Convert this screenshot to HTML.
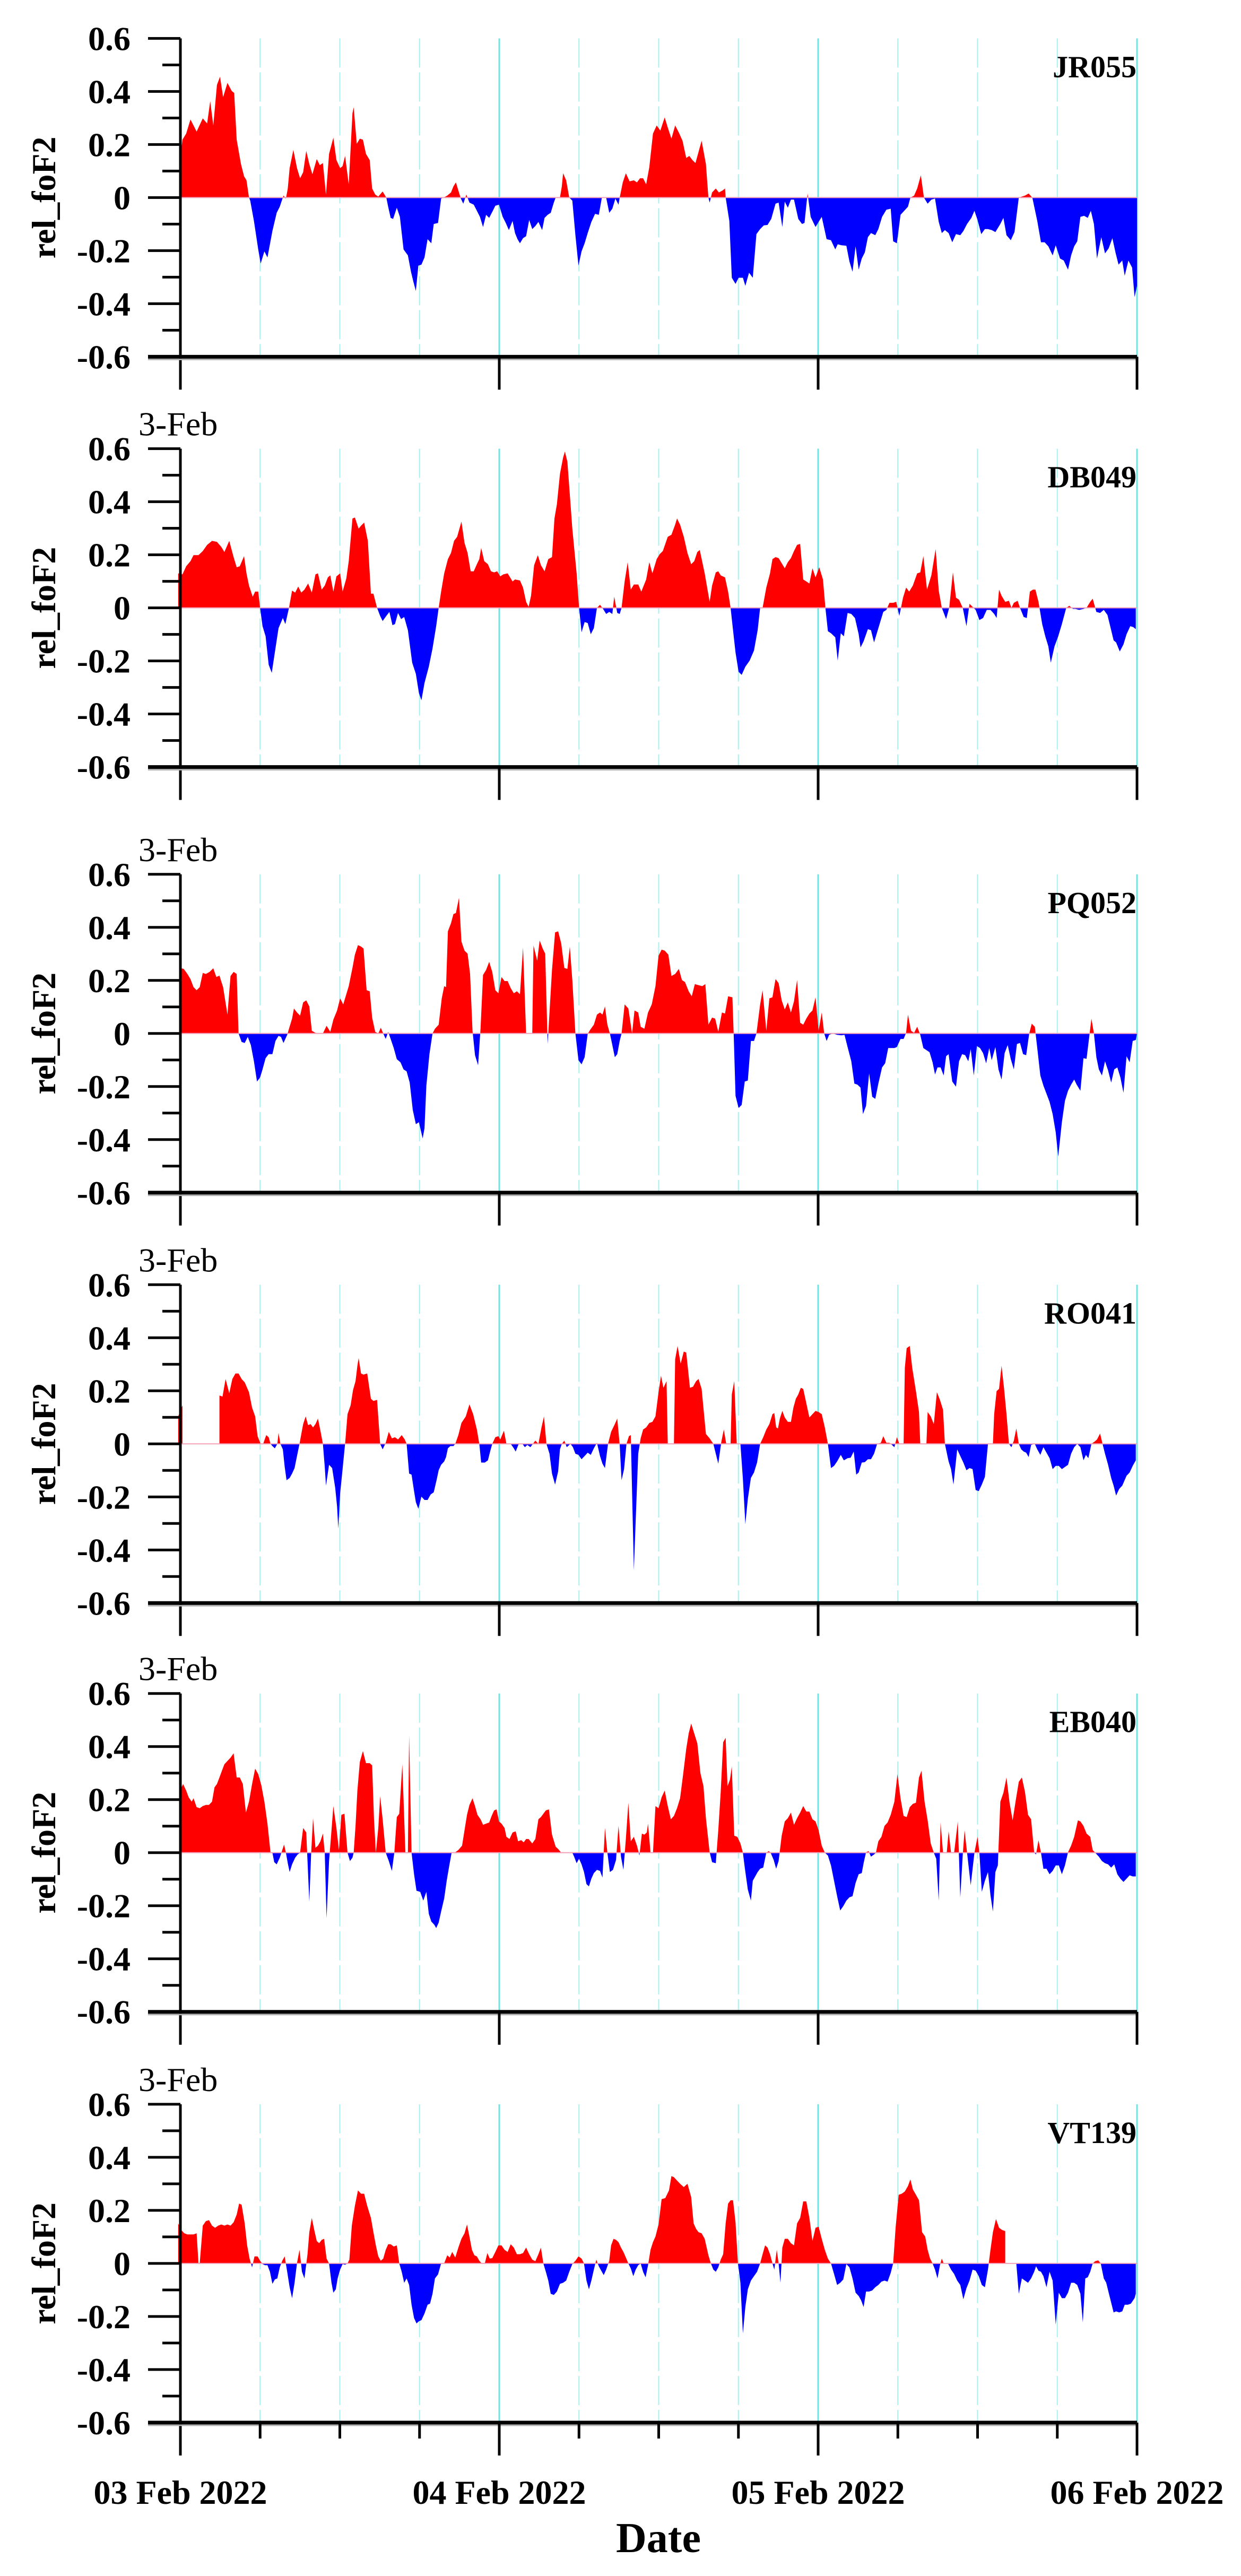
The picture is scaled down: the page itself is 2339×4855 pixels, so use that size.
<!DOCTYPE html>
<html><head><meta charset="utf-8">
<style>
html,body{margin:0;padding:0;background:#fff;}
svg{display:block;}
text{font-family:"Liberation Serif",serif;}
</style></head>
<body>
<svg id="s" width="2339" height="4855" viewBox="0 0 2339 4855" xmlns="http://www.w3.org/2000/svg">
<rect width="2339" height="4855" fill="#fff"/>
<text x="1241" y="4810" font-size="80" font-weight="bold" text-anchor="middle">Date</text>
<text x="340" y="4719" font-size="64" font-weight="bold" text-anchor="middle">03 Feb 2022</text>
<text x="941" y="4719" font-size="64" font-weight="bold" text-anchor="middle">04 Feb 2022</text>
<text x="1542" y="4719" font-size="64" font-weight="bold" text-anchor="middle">05 Feb 2022</text>
<text x="2143" y="4719" font-size="64" font-weight="bold" text-anchor="middle">06 Feb 2022</text>
</svg>
<script>
var P=[];
P.push({o:72,h:600,z:785,name:"JR055",d:"(8,785),(8,600),(12,500),(18,470),(25,400),(35,460),(45,395),(52,420),(57,310),(62,430),(68,230),(73,190),(78,290),(85,220),(92,260),(96,270),(100,500),(107,620),(112,680),(116,700),(120,785),(122,800),(128,900),(135,1040),(139,1110),(145,1050),(150,1080),(158,950),(165,860),(170,830),(176,775),(180,790),(183,740),(186,640),(192,550),(198,640),(203,690),(208,660),(213,555),(218,620),(223,670),(230,595),(235,625),(240,615),(245,770),(250,570),(257,490),(262,600),(268,640),(272,630),(276,580),(282,720),(288,370),(290,340),(295,520),(300,495),(305,500),(310,570),(316,600),(320,740),(325,770),(330,780),(337,755),(343,785),(346,830),(350,885),(354,890),(360,835),(365,880),(371,1040),(378,1070),(383,1150),(387,1200),(391,1245),(395,1120),(400,1115),(405,1080),(410,990),(416,1010),(420,915),(427,910),(432,790),(436,785),(442,775),(448,760),(452,730),(456,710),(460,750),(464,790),(468,815),(473,770),(478,810),(485,820),(490,850),(495,880),(500,930),(505,870),(510,885),(516,850),(520,825),(526,820),(532,880),(537,910),(542,945),(548,900),(552,960),(556,990),(560,1010),(565,985),(570,975),(575,895),(580,940),(585,925),(590,905),(596,945),(600,885),(605,870),(610,860),(615,810),(618,785),(625,785),(628,730),(630,665),(635,700),(640,785),(645,800),(650,970),(655,1120),(660,1050),(665,1010),(670,960),(676,905),(682,865),(688,870),(693,785),(700,785),(705,860),(710,840),(715,790),(720,820),(722,785),(727,710),(732,665),(738,705),(745,700),(750,710),(755,690),(760,690),(765,720),(770,635),(776,470),(782,430),(788,455),(795,390),(800,440),(806,495),(812,430),(818,465),(824,505),(830,590),(835,580),(840,600),(845,615),(850,560),(855,505),(862,620),(866,785),(868,810),(872,760),(878,740),(883,760),(889,750),(893,740),(894,785),(900,900),(904,1180),(910,1210),(915,1180),(922,1180),(926,1220),(932,1155),(938,1180),(944,965),(950,940),(956,922),(962,920),(968,890),(975,815),(980,810),(986,930),(990,805),(995,835),(1000,795),(1005,795),(1012,890),(1018,915),(1022,910),(1027,765),(1032,880),(1040,930),(1045,905),(1050,880),(1058,990),(1065,995),(1072,1040),(1076,1015),(1082,1020),(1090,1022),(1095,1100),(1100,1150),(1105,1025),(1110,1140),(1115,1085),(1120,1055),(1125,980),(1130,960),(1137,970),(1142,940),(1148,880),(1155,845),(1162,840),(1166,1000),(1172,1010),(1178,870),(1184,850),(1190,830),(1194,785),(1200,775),(1205,740),(1211,675),(1216,785),(1222,815),(1228,795),(1234,790),(1240,905),(1245,960),(1250,945),(1256,960),(1262,1005),(1268,965),(1275,970),(1280,950),(1286,915),(1293,885),(1298,850),(1303,895),(1309,965),(1315,940),(1320,940),(1326,945),(1332,955),(1340,915),(1345,885),(1350,970),(1357,995),(1363,955),(1370,785),(1380,775),(1386,765),(1392,785),(1400,900),(1406,1005),(1412,1005),(1418,1025),(1425,1070),(1430,1020),(1437,1085),(1443,1095),(1450,1140),(1455,1070),(1460,1025),(1465,1000),(1470,880),(1476,875),(1482,885),(1487,850),(1492,915),(1497,1085),(1504,980),(1510,1060),(1516,1035),(1522,985),(1527,1055),(1532,1115),(1538,1095),(1542,1170),(1548,1095),(1554,1130),(1558,1275),(1562,1220),(1562,785)"});
P.push({o:851,h:600,z:770,name:"DB049",d:"(5,770),(5,600),(12,605),(18,565),(25,540),(30,510),(38,510),(45,490),(52,460),(60,440),(68,445),(75,470),(80,495),(88,440),(95,520),(100,570),(105,565),(112,515),(116,600),(120,660),(126,715),(130,690),(135,690),(138,770),(142,860),(147,910),(152,1050),(157,1090),(162,990),(168,870),(175,820),(179,850),(185,770),(190,685),(195,695),(200,665),(205,695),(210,680),(216,650),(222,695),(228,605),(232,600),(238,680),(243,660),(248,620),(252,610),(257,690),(262,615),(268,600),(272,690),(278,625),(282,540),(288,330),(292,325),(298,380),(302,365),(307,350),(313,440),(318,700),(322,700),(328,770),(333,810),(337,835),(343,810),(348,790),(353,855),(357,850),(362,795),(367,825),(372,815),(378,880),(385,1040),(391,1095),(396,1190),(400,1225),(405,1140),(412,1060),(418,970),(424,860),(428,770),(432,690),(437,600),(443,530),(448,500),(453,440),(458,420),(465,345),(470,450),(475,500),(480,590),(485,590),(490,555),(494,530),(497,475),(502,540),(508,555),(513,590),(518,595),(523,590),(528,615),(533,605),(540,600),(548,640),(552,630),(560,635),(565,670),(570,740),(574,765),(578,710),(583,560),(589,510),(594,560),(600,590),(606,530),(612,520),(616,330),(620,260),(625,110),(630,30),(633,0),(637,50),(645,380),(652,600),(656,770),(660,890),(665,840),(670,845),(675,900),(680,870),(685,770),(690,755),(695,775),(700,800),(705,790),(710,800),(713,715),(718,795),(722,800),(725,770),(730,640),(735,545),(740,680),(745,655),(752,655),(757,690),(765,630),(770,545),(775,600),(782,530),(787,505),(792,490),(800,420),(806,410),(812,360),(815,330),(820,360),(826,420),(832,500),(838,555),(843,540),(848,495),(852,485),(860,600),(868,740),(872,660),(878,595),(882,590),(886,610),(893,620),(898,690),(902,770),(906,880),(910,990),(915,1085),(920,1100),(926,1060),(933,1030),(940,980),(946,880),(950,770),(954,770),(960,670),(966,600),(970,530),(975,520),(980,525),(985,550),(990,575),(995,545),(1000,525),(1005,490),(1010,460),(1015,455),(1020,630),(1025,640),(1030,650),(1035,575),(1040,620),(1046,570),(1052,630),(1056,770),(1060,885),(1065,895),(1072,915),(1076,1030),(1081,895),(1086,910),(1092,795),(1098,800),(1104,820),(1110,900),(1113,965),(1118,935),(1125,875),(1130,880),(1135,940),(1140,890),(1145,840),(1150,790),(1155,780),(1160,745),(1166,745),(1171,740),(1176,810),(1182,720),(1187,670),(1192,690),(1198,660),(1205,600),(1210,595),(1215,515),(1221,680),(1228,610),(1235,480),(1240,685),(1245,770),(1252,825),(1257,770),(1263,595),(1268,720),(1273,730),(1279,770),(1285,860),(1290,750),(1295,765),(1300,780),(1306,830),(1312,820),(1318,780),(1324,780),(1330,800),(1334,820),(1338,680),(1342,710),(1348,740),(1354,735),(1358,770),(1362,745),(1368,735),(1372,770),(1378,815),(1383,820),(1388,690),(1393,680),(1397,680),(1402,740),(1408,850),(1413,910),(1418,960),(1422,1040),(1428,960),(1434,910),(1440,850),(1447,770),(1452,760),(1458,775),(1462,775),(1468,780),(1475,775),(1480,770),(1486,740),(1490,725),(1496,790),(1502,795),(1508,780),(1514,805),(1520,880),(1524,930),(1528,940),(1534,985),(1540,950),(1545,900),(1551,860),(1556,865),(1560,875),(1560,770)"});
P.push({o:1629,h:600,z:833,name:"PQ052",d:"(8,833),(8,510),(14,515),(20,540),(25,565),(30,605),(35,620),(40,605),(45,535),(50,540),(56,530),(62,512),(67,555),(72,548),(78,605),(85,740),(90,550),(95,530),(100,540),(103,833),(108,875),(113,880),(118,850),(123,890),(128,970),(133,1070),(138,1050),(142,1010),(147,955),(152,935),(158,935),(163,870),(168,845),(172,850),(176,880),(182,840),(185,810),(190,760),(193,710),(198,730),(203,745),(208,680),(213,670),(218,700),(222,820),(228,830),(233,833),(240,833),(246,795),(252,825),(257,765),(263,720),(268,660),(273,690),(278,640),(282,600),(288,510),(292,445),(297,398),(302,405),(306,415),(311,620),(316,625),(320,755),(325,825),(330,833),(334,805),(338,833),(342,860),(346,825),(350,860),(355,905),(360,960),(366,975),(371,1010),(376,1020),(381,1075),(386,1210),(391,1280),(396,1270),(402,1350),(405,1300),(408,1090),(413,935),(418,833),(422,810),(428,790),(433,660),(437,600),(440,605),(443,330),(448,290),(452,245),(456,240),(461,165),(465,380),(470,425),(475,440),(479,540),(483,820),(487,940),(492,990),(496,810),(500,545),(505,520),(510,480),(515,530),(520,620),(525,635),(530,555),(535,575),(540,575),(545,610),(550,635),(555,625),(560,640),(565,410),(570,833),(580,833),(582,400),(588,475),(592,375),(597,415),(601,440),(605,885),(612,520),(617,335),(622,330),(627,390),(632,510),(637,515),(641,405),(645,570),(650,833),(655,965),(660,985),(665,950),(670,835),(674,815),(680,790),(685,740),(690,730),(694,740),(698,700),(702,790),(706,833),(710,890),(714,950),(718,935),(722,870),(725,833),(730,690),(736,710),(742,833),(746,720),(752,730),(756,800),(762,810),(768,730),(774,690),(780,600),(785,450),(790,420),(795,425),(801,445),(806,550),(812,540),(818,515),(823,570),(828,580),(834,625),(839,650),(844,590),(850,595),(856,600),(861,590),(866,790),(872,755),(877,760),(882,825),(888,730),(893,735),(898,650),(905,655),(907,833),(910,1140),(915,1200),(920,1185),(925,1070),(930,1065),(935,870),(940,870),(944,833),(950,690),(954,620),(960,820),(965,660),(970,655),(975,565),(980,585),(985,670),(990,715),(995,680),(1000,730),(1005,675),(1010,570),(1015,780),(1020,790),(1025,760),(1030,735),(1035,720),(1040,655),(1045,820),(1050,730),(1054,833),(1058,870),(1062,840),(1068,833),(1075,840),(1082,842),(1087,840),(1092,900),(1098,970),(1103,1080),(1108,1085),(1113,1100),(1117,1230),(1122,1190),(1127,1030),(1132,1145),(1137,1155),(1142,1080),(1148,1000),(1153,980),(1158,905),(1163,905),(1168,905),(1172,900),(1178,860),(1183,860),(1187,830),(1190,740),(1195,820),(1200,830),(1205,800),(1210,840),(1215,905),(1220,915),(1225,925),(1230,975),(1234,1035),(1238,1000),(1243,1000),(1248,1040),(1252,945),(1256,935),(1262,1070),(1268,1095),(1273,970),(1278,935),(1283,940),(1288,970),(1292,910),(1297,1040),(1302,895),(1307,905),(1312,930),(1317,980),(1322,905),(1326,965),(1332,900),(1337,1010),(1342,1060),(1347,930),(1352,890),(1357,960),(1362,1010),(1367,885),(1372,880),(1377,935),(1382,940),(1387,833),(1391,785),(1396,800),(1400,905),(1405,1040),(1410,1090),(1415,1130),(1420,1170),(1425,1230),(1430,1320),(1434,1440),(1440,1270),(1445,1165),(1450,1115),(1455,1085),(1460,1060),(1464,1085),(1470,1115),(1475,955),(1480,958),(1485,833),(1488,760),(1492,833),(1496,950),(1500,1010),(1505,1040),(1510,970),(1515,1015),(1520,1075),(1525,1010),(1530,1000),(1535,1050),(1540,1125),(1545,945),(1550,975),(1555,870),(1560,865),(1562,833)"});
P.push({o:2400,h:650,z:775,name:"RO041",d:"(5,775),(5,650),(12,600),(12,775),(72,775),(72,555),(77,560),(82,480),(88,545),(93,480),(98,455),(103,455),(108,480),(113,495),(120,540),(125,610),(130,650),(134,740),(139,775),(143,775),(148,735),(152,745),(155,775),(158,785),(162,795),(166,775),(168,725),(171,775),(175,800),(178,880),(181,940),(186,930),(190,910),(194,885),(198,830),(202,775),(205,730),(208,685),(212,650),(216,690),(220,685),(224,700),(228,685),(232,660),(236,715),(240,775),(243,880),(245,965),(250,870),(255,885),(260,975),(263,1060),(265,1160),(268,1000),(272,890),(276,775),(280,640),(285,600),(289,530),(293,490),(296,420),(298,385),(302,455),(306,460),(312,455),(318,570),(322,580),(328,575),(333,775),(337,800),(342,770),(347,720),(352,750),(357,745),(362,755),(368,735),(373,755),(376,775),(380,910),(384,915),(388,990),(391,1040),(395,1070),(400,1015),(405,1030),(410,1030),(415,1005),(420,995),(425,935),(428,895),(432,870),(437,855),(440,835),(443,795),(447,785),(452,785),(455,775),(460,735),(465,680),(472,650),(478,595),(484,640),(490,710),(494,775),(497,860),(503,860),(508,850),(512,805),(515,775),(520,745),(525,740),(528,755),(534,715),(538,775),(545,775),(550,795),(553,810),(558,775),(564,775),(568,790),(572,780),(577,790),(581,775),(585,760),(590,775),(595,700),(599,650),(603,775),(608,820),(612,910),(617,960),(622,900),(625,800),(628,775),(632,760),(636,790),(642,775),(646,790),(650,820),(655,825),(660,845),(665,830),(670,815),(675,825),(680,795),(685,770),(690,830),(694,865),(698,885),(703,775),(708,720),(714,685),(718,660),(722,780),(725,940),(729,890),(733,775),(737,740),(740,735),(745,1350),(748,1120),(752,820),(756,750),(760,710),(765,700),(770,680),(775,675),(780,650),(785,540),(789,465),(793,520),(798,490),(800,775),(810,775),(812,390),(816,330),(821,410),(826,355),(830,360),(836,520),(841,515),(846,490),(850,480),(855,525),(862,730),(868,750),(874,775),(878,820),(882,865),(887,765),(891,710),(895,775),(902,775),(904,550),(908,490),(912,775),(918,775),(922,935),(926,1140),(930,1025),(935,930),(940,905),(945,860),(950,775),(955,745),(960,710),(965,685),(970,640),(973,635),(976,700),(979,705),(982,660),(986,625),(990,655),(995,675),(1000,675),(1004,610),(1008,570),(1012,550),(1016,520),(1020,525),(1025,590),(1030,655),(1035,640),(1040,625),(1045,630),(1050,640),(1055,700),(1060,775),(1065,885),(1070,875),(1075,855),(1081,825),(1086,850),(1092,840),(1097,838),(1102,810),(1106,915),(1110,905),(1115,860),(1120,858),(1125,845),(1130,845),(1135,820),(1140,775),(1146,770),(1150,740),(1155,770),(1160,770),(1164,780),(1168,790),(1172,745),(1176,775),(1183,775),(1185,430),(1188,340),(1193,330),(1197,430),(1203,535),(1208,630),(1210,775),(1220,775),(1222,630),(1227,650),(1232,685),(1237,540),(1242,575),(1247,620),(1250,775),(1256,855),(1260,890),(1264,960),(1267,880),(1270,800),(1275,830),(1280,860),(1285,895),(1290,885),(1295,890),(1300,985),(1305,990),(1310,960),(1315,925),(1320,775),(1328,775),(1330,640),(1334,535),(1338,525),(1342,420),(1346,520),(1350,640),(1354,775),(1358,790),(1362,760),(1366,705),(1370,775),(1374,800),(1378,810),(1382,815),(1386,835),(1390,780),(1396,775),(1400,800),(1405,825),(1410,790),(1415,815),(1420,840),(1425,890),(1430,875),(1435,875),(1440,890),(1445,880),(1450,870),(1455,820),(1460,790),(1465,775),(1470,790),(1475,850),(1479,825),(1483,840),(1488,775),(1493,765),(1497,755),(1502,728),(1506,775),(1510,820),(1515,870),(1520,930),(1524,965),(1528,1010),(1533,980),(1538,965),(1545,920),(1550,905),(1555,875),(1560,850),(1560,775)"});
P.push({o:3180,h:650,z:752,name:"EB040",d:"(8,752),(8,470),(13,440),(18,470),(22,500),(27,520),(30,505),(35,545),(40,550),(45,540),(50,535),(55,535),(60,520),(64,455),(68,440),(72,410),(76,380),(80,350),(85,335),(90,320),(95,300),(100,410),(105,410),(110,440),(115,570),(120,520),(125,440),(130,370),(135,395),(140,445),(145,520),(150,620),(155,752),(158,752),(161,795),(165,805),(170,775),(174,740),(177,715),(180,752),(183,800),(186,840),(190,805),(195,775),(199,760),(203,752),(208,640),(213,660),(218,975),(221,752),(224,595),(228,730),(232,720),(236,700),(240,665),(243,752),(246,1050),(250,790),(254,650),(257,540),(262,640),(266,740),(270,580),(275,575),(280,752),(284,790),(288,775),(290,752),(293,630),(296,470),(300,340),(305,290),(310,345),(316,345),(320,355),(323,600),(326,752),(330,640),(333,495),(337,600),(342,752),(347,790),(352,835),(356,752),(360,590),(364,575),(369,350),(374,752),(378,752),(380,220),(384,752),(388,850),(392,925),(398,930),(403,970),(408,930),(412,1030),(416,1065),(421,1080),(424,1095),(428,1070),(432,1020),(437,960),(441,880),(445,815),(449,752),(455,750),(460,740),(466,720),(470,650),(474,580),(478,535),(483,505),(487,540),(491,580),(496,600),(500,625),(505,620),(510,615),(514,585),(518,560),(522,555),(526,610),(530,620),(535,640),(538,680),(543,690),(548,660),(553,655),(557,700),(562,695),(566,705),(570,690),(574,690),(580,710),(585,690),(590,600),(594,590),(598,575),(602,560),(607,555),(612,670),(618,725),(622,735),(627,752),(632,752),(637,750),(640,752),(645,752),(648,770),(652,800),(656,780),(660,805),(664,840),(668,895),(672,905),(676,870),(680,845),(685,830),(690,835),(694,865),(698,640),(702,752),(706,840),(711,830),(716,785),(720,630),(724,770),(728,830),(732,690),(736,525),(740,700),(745,680),(750,720),(754,765),(758,665),(762,670),(766,660),(768,620),(772,752),(776,752),(780,540),(785,550),(790,500),(795,470),(800,540),(805,600),(810,585),(815,550),(820,505),(825,395),(830,280),(834,210),(838,165),(843,210),(848,255),(853,390),(858,450),(862,595),(868,750),(872,795),(878,800),(882,650),(886,475),(890,250),(894,230),(897,450),(901,420),(904,360),(908,675),(913,680),(918,710),(922,752),(925,820),(930,920),(935,970),(938,880),(942,860),(946,840),(950,825),(955,820),(960,752),(964,745),(967,752),(972,785),(976,825),(980,790),(985,675),(990,610),(995,595),(1000,570),(1005,625),(1010,595),(1015,570),(1020,540),(1025,565),(1030,565),(1035,600),(1040,610),(1045,650),(1050,720),(1055,752),(1060,765),(1065,810),(1070,880),(1075,950),(1080,1015),(1085,995),(1090,970),(1095,955),(1100,950),(1105,890),(1110,850),(1115,845),(1118,800),(1122,750),(1126,745),(1130,770),(1135,760),(1138,752),(1142,700),(1147,680),(1152,630),(1157,615),(1162,580),(1168,520),(1173,395),(1178,505),(1183,585),(1188,590),(1193,545),(1198,530),(1203,525),(1208,410),(1212,380),(1217,520),(1222,605),(1227,710),(1232,752),(1236,780),(1240,970),(1243,615),(1247,752),(1253,752),(1256,655),(1260,752),(1265,752),(1271,610),(1275,955),(1279,760),(1282,650),(1286,752),(1292,900),(1298,752),(1303,680),(1306,752),(1310,930),(1315,880),(1320,840),(1324,945),(1328,1020),(1332,840),(1336,810),(1340,520),(1345,480),(1350,410),(1355,525),(1360,605),(1365,515),(1370,430),(1375,410),(1380,475),(1385,580),(1390,600),(1395,752),(1398,760),(1402,695),(1406,752),(1410,825),(1415,825),(1420,850),(1425,835),(1430,810),(1435,810),(1440,850),(1445,810),(1450,750),(1455,720),(1460,680),(1466,605),(1470,610),(1475,630),(1480,665),(1486,680),(1490,740),(1494,752),(1500,770),(1505,790),(1510,800),(1515,805),(1520,820),(1525,805),(1530,850),(1535,870),(1540,885),(1545,870),(1550,855),(1555,860),(1560,860),(1560,752)"});
P.push({o:3950,h:650,z:762,name:"VT139",d:"(5,762),(5,580),(10,610),(15,625),(20,630),(25,630),(30,630),(35,625),(38,762),(40,762),(45,590),(50,570),(55,565),(60,590),(65,600),(70,590),(75,585),(80,590),(85,585),(90,590),(95,575),(100,540),(104,490),(108,495),(113,580),(117,680),(121,740),(125,780),(129,730),(134,730),(138,750),(142,765),(146,770),(150,770),(154,800),(158,855),(162,835),(166,830),(170,780),(174,750),(178,730),(182,800),(186,870),(190,920),(194,850),(198,760),(202,700),(206,800),(210,830),(215,720),(218,620),(222,555),(226,610),(230,660),(234,670),(238,655),(242,650),(246,740),(250,762),(254,850),(257,895),(261,880),(264,830),(268,790),(272,765),(276,768),(280,762),(283,745),(287,590),(292,500),(297,430),(302,445),(307,445),(312,500),(318,555),(322,620),(326,680),(330,730),(334,750),(338,740),(342,700),(346,675),(350,675),(355,685),(360,680),(364,762),(368,800),(372,850),(376,830),(380,860),(384,950),(388,1010),(392,1035),(396,1025),(400,1020),(405,990),(410,950),(414,945),(418,900),(422,830),(427,812),(432,762),(437,762),(442,725),(446,735),(450,710),(455,735),(460,690),(465,650),(470,625),(474,585),(478,640),(482,700),(486,725),(490,730),(494,750),(498,762),(503,762),(507,715),(511,740),(515,738),(520,710),(525,680),(530,680),(535,700),(540,710),(545,675),(550,690),(555,720),(560,720),(565,715),(570,690),(575,720),(580,745),(585,752),(590,720),(594,690),(598,762),(602,800),(606,840),(610,900),(615,905),(620,890),(625,855),(630,850),(635,840),(640,800),(645,765),(650,750),(655,730),(660,740),(664,762),(668,840),(672,880),(676,840),(680,790),(684,745),(688,775),(692,795),(696,815),(700,790),(705,750),(708,680),(712,650),(716,655),(720,665),(724,690),(728,710),(732,735),(736,762),(740,785),(744,820),(748,790),(752,770),(756,762),(760,800),(764,825),(768,770),(772,700),(776,665),(780,640),(785,585),(790,470),(796,465),(802,430),(806,365),(810,370),(815,385),(820,400),(826,415),(832,400),(838,460),(842,580),(846,605),(850,620),(855,625),(860,650),(866,725),(870,762),(874,790),(878,800),(882,780),(886,745),(890,720),(894,580),(898,490),(902,475),(906,475),(910,575),(914,762),(918,850),(922,1080),(926,960),(930,880),(935,840),(940,820),(945,800),(950,762),(954,720),(958,680),(962,690),(966,720),(970,762),(973,790),(977,700),(980,762),(983,850),(986,690),(990,650),(995,650),(1000,670),(1005,680),(1010,580),(1015,555),(1020,480),(1025,480),(1030,555),(1035,660),(1040,600),(1045,595),(1050,650),(1055,700),(1060,740),(1065,762),(1070,810),(1075,860),(1080,850),(1085,835),(1090,765),(1095,780),(1100,830),(1105,895),(1110,910),(1114,930),(1118,960),(1122,890),(1127,890),(1132,885),(1137,870),(1142,860),(1147,845),(1152,840),(1157,845),(1162,805),(1166,762),(1170,600),(1175,450),(1180,445),(1185,435),(1190,410),(1194,380),(1198,425),(1203,450),(1208,475),(1213,620),(1218,640),(1222,700),(1226,740),(1230,762),(1234,790),(1238,830),(1242,770),(1245,740),(1248,762),(1255,762),(1260,790),(1265,810),(1270,840),(1275,860),(1280,925),(1285,875),(1290,840),(1295,790),(1300,795),(1305,820),(1310,860),(1315,870),(1320,790),(1324,700),(1328,620),(1333,560),(1338,600),(1343,610),(1348,615),(1348,762),(1366,762),(1370,900),(1375,830),(1380,840),(1385,850),(1390,830),(1395,800),(1398,775),(1402,795),(1406,800),(1410,820),(1415,870),(1420,800),(1425,840),(1430,1040),(1435,895),(1440,920),(1445,920),(1450,895),(1455,850),(1460,850),(1465,860),(1470,900),(1474,1030),(1478,830),(1482,825),(1486,800),(1490,762),(1494,752),(1499,748),(1503,762),(1508,830),(1512,850),(1516,895),(1520,940),(1524,985),(1528,980),(1533,985),(1538,980),(1542,950),(1547,950),(1552,945),(1558,920),(1560,900),(1560,762)"});

var NS="http://www.w3.org/2000/svg",svg=document.getElementById("s");
function el(t,a,txt){var e=document.createElementNS(NS,t);for(var k in a)e.setAttribute(k,a[k]);if(txt!==undefined)e.textContent=txt;svg.appendChild(e);return e;}
var defs=el("defs",{});
var X0=340,XE=2143,DW=(XE-X0)/3;
P.forEach(function(p,i){
  var sc=1568/p.h, zero=p.o+p.z/sc, top=zero-300, bot=zero+300;
  for(var k=1;k<=12;k++){
    var x=X0+k*DW/4;
    if(k%4==0) el("line",{x1:x,y1:top,x2:x,y2:bot,stroke:"#6fe3e3","stroke-width":3});
    else el("line",{x1:x,y1:top,x2:x,y2:bot,stroke:"#a6f0f0","stroke-width":2,"stroke-dasharray":"55 9"});
  }
  var re=/\((\d+),(\d+)\)/g,m,pts=[];
  while((m=re.exec(p.d))){pts.push([330+(+m[1])*1820/1568,p.o+(+m[2])/sc]);}
  var dpath="M"+pts[0][0].toFixed(1)+" "+zero.toFixed(1);
  pts.forEach(function(q){dpath+=" L"+q[0].toFixed(1)+" "+q[1].toFixed(1);});
  dpath+=" L"+pts[pts.length-1][0].toFixed(1)+" "+zero.toFixed(1)+" Z";
  var c1=document.createElementNS(NS,"clipPath");c1.setAttribute("id","u"+i);
  var r1=document.createElementNS(NS,"rect");r1.setAttribute("x",0);r1.setAttribute("y",top-50);r1.setAttribute("width",2339);r1.setAttribute("height",zero-top+50);c1.appendChild(r1);defs.appendChild(c1);
  var c2=document.createElementNS(NS,"clipPath");c2.setAttribute("id","d"+i);
  var r2=document.createElementNS(NS,"rect");r2.setAttribute("x",0);r2.setAttribute("y",zero);r2.setAttribute("width",2339);r2.setAttribute("height",350);c2.appendChild(r2);defs.appendChild(c2);
  el("path",{d:dpath,fill:"#ff0000","clip-path":"url(#u"+i+")"});
  el("path",{d:dpath,fill:"#0000ff","clip-path":"url(#d"+i+")"});
  el("line",{x1:X0,y1:zero,x2:XE,y2:zero,stroke:"#f4a0b8","stroke-width":2});
  el("line",{x1:X0,y1:top,x2:X0,y2:bot+62,stroke:"#000","stroke-width":5});
  el("line",{x1:279,y1:bot+5,x2:XE,y2:bot+5,stroke:"#b0b0b0","stroke-width":3});
  el("line",{x1:279,y1:bot,x2:XE,y2:bot,stroke:"#000","stroke-width":7});
  for(var j=0;j<=12;j++){
    var y=top+j*50, major=(j%2==0);
    el("line",{x1:major?279:306,y1:y,x2:X0,y2:y,stroke:"#000","stroke-width":5});
    if(major){var v=(0.6-j*0.1);var s=Math.abs(v)<1e-9?"0":v.toFixed(1);
      el("text",{x:246,y:y+22,"font-size":64,"font-weight":"bold","text-anchor":"end"},s);}
  }
  for(var k=1;k<=3;k++){var x=X0+k*DW;el("line",{x1:x,y1:bot,x2:x,y2:bot+62,stroke:"#000","stroke-width":5});}
  if(i==5){for(var k=1;k<12;k++){if(k%4)el("line",{x1:X0+k*DW/4,y1:bot,x2:X0+k*DW/4,y2:bot+30,stroke:"#000","stroke-width":5});}}
  el("text",{x:2142,y:top+73,"font-size":58,"font-weight":"bold","text-anchor":"end"},p.name);
  el("text",{x:0,y:0,"font-size":64,"font-weight":"bold","text-anchor":"middle",transform:"translate(104,"+zero+") rotate(-90)"},"rel_foF2");
  if(i>0) el("text",{x:261,y:top-25,"font-size":64},"3-Feb");
});
</script>
</body></html>
